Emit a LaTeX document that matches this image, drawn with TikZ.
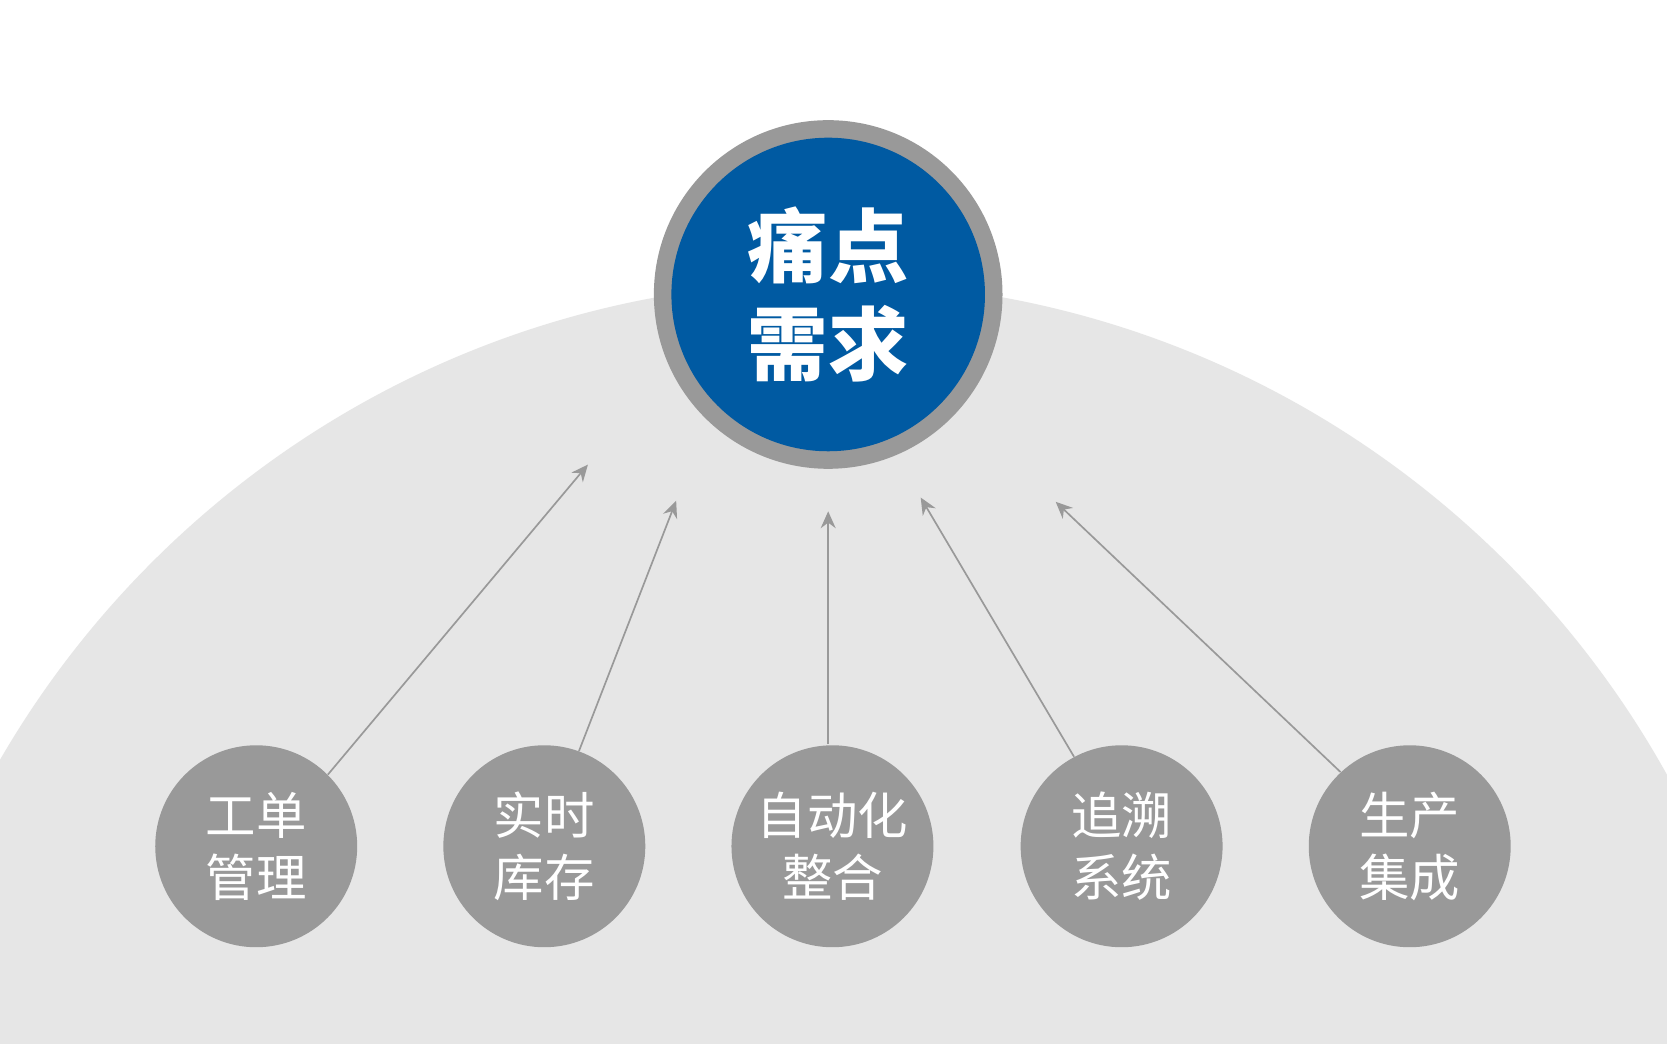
\documentclass[tikz,border=0pt]{standalone}
\usepackage{fontspec}
\newfontfamily\cjk{Noto Sans CJK SC}
\usetikzlibrary{arrows.meta}
\definecolor{bg}{HTML}{E6E6E6}
\definecolor{gr}{HTML}{999999}
\definecolor{bl}{HTML}{005AA2}
\tikzset{
 small/.style={circle,fill=gr,minimum size=3.8cm,inner sep=0pt,text=white,font=\cjk\fontsize{27}{33}\selectfont,align=center},
 arr/.style={draw=gr,line width=0.9pt,-{Stealth[length=9pt,width=8pt,inset=3pt]}}
}
\begin{document}
\begin{tikzpicture}[x=0.02cm,y=-0.02cm]
\useasboundingbox (0,0) rectangle (1568,982);
\fill[white] (0,0) rectangle (1568,982);
\begin{scope}
\clip (0,0) rectangle (1568,982);
\fill[bg] (780,1166) circle[radius=901*0.02cm];
\end{scope}
\node[circle,fill=gr,minimum size=6.56cm,inner sep=0pt] (outer) at (779,277) {};
\node[circle,fill=bl,minimum size=5.9cm,inner sep=0pt,text=white,align=center,font=\cjk\bfseries\fontsize{43}{52}\selectfont] (c) at (779,277) {痛点\\需求};
\node[small] (a1) at (241,796) {工单\\管理};
\node[small] (a2) at (512,796) {实时\\库存};
\node[small] (a3) at (783,796) {自动化\\整合};
\node[small] (a4) at (1055,796) {追溯\\系统};
\node[small] (a5) at (1326,796) {生产\\集成};
\coordinate (e1) at (553,437);
\coordinate (e2) at (636,471);
\coordinate (e3) at (779,481);
\coordinate (e4) at (866,468);
\coordinate (e5) at (993,472);
\draw[arr] (a1.45) -- (e1);
\draw[arr] (a2.70) -- (e2);
\draw[arr] (779,700) -- (e3);
\draw[arr] (a4.118) -- (e4);
\draw[arr] (a5.133) -- (e5);
\end{tikzpicture}
\end{document}
